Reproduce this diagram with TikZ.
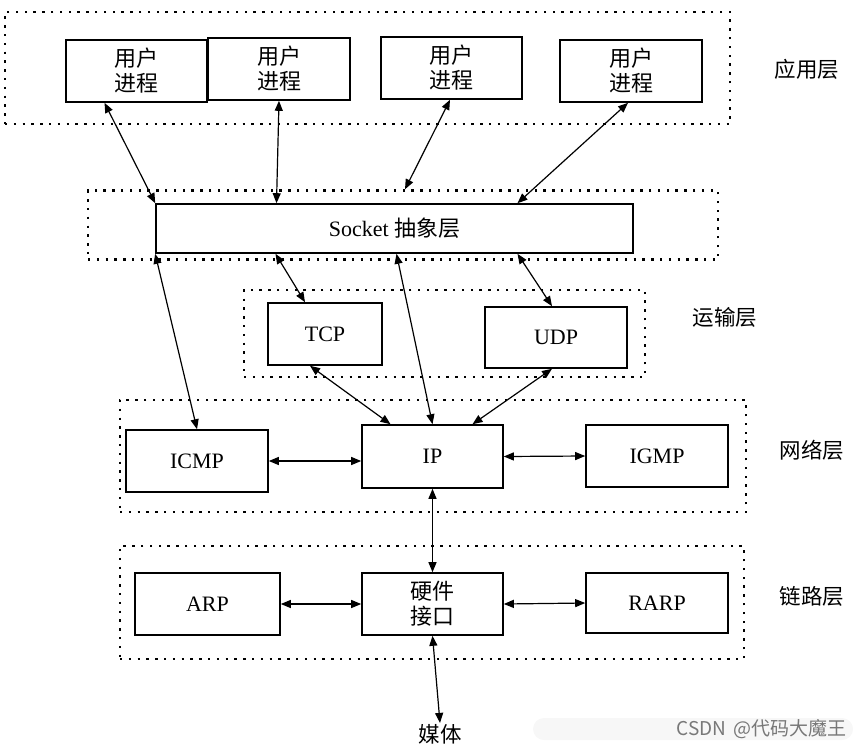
\documentclass[tikz,border=0pt]{standalone}
\usepackage{fontspec}
\setmainfont{Liberation Serif}
\newfontfamily\cjk{Noto Sans CJK SC}
\usepackage{tikz}
\usetikzlibrary{positioning,arrows.meta}
\definecolor{MarkGray}{RGB}{120,120,120}

\begin{document}
\begin{tikzpicture}[x=1pt, y=-1pt,
    pbox/.style={rectangle, draw=black, line width=1.6pt, fill=white,
                 minimum width=141pt, minimum height=62pt, inner sep=0pt,
                 align=center, font=\fontsize{22}{25}\selectfont},
    layer/.style={rectangle, draw=black, line width=2.4pt,
                  dash pattern=on 2.4pt off 6.4pt, inner sep=0pt},
    lname/.style={font=\cjk\fontsize{21.5}{25}\selectfont},
    arrow/.style={{Triangle[length=10pt,width=8pt]}-{Triangle[length=10pt,width=8pt]}, line width=1.2pt}
]
    \useasboundingbox (0,0) rectangle (856,748);

    % dotted layer frames
    \node[layer, minimum width=725pt, minimum height=112pt] (appL) at (367.5,68) {};
    \node[layer, minimum width=630pt, minimum height=69pt] (sockL) at (403,225) {};
    \node[layer, minimum width=401pt, minimum height=87pt] (transL) at (444.5,333.5) {};
    \node[layer, minimum width=626pt, minimum height=112pt] (netL) at (433,456) {};
    \node[layer, minimum width=624pt, minimum height=113pt] (linkL) at (432,602.5) {};

    % application layer
    \node[pbox] (u1) at (136.5,71) {\cjk 用户\\\cjk 进程};
    \node[pbox, minimum width=142pt] (u2) at (279,69) {\cjk 用户\\\cjk 进程};
    \node[pbox] (u3) at (451.5,68) {\cjk 用户\\\cjk 进程};
    \node[pbox, minimum width=142pt] (u4) at (631,71) {\cjk 用户\\\cjk 进程};

    \node[pbox, minimum width=477pt, minimum height=49pt] (sock) at (394.5,228.5) {Socket {\cjk 抽象层}};

    % transport layer
    \node[pbox, minimum width=114pt] (tcp) at (325,334) {TCP};
    \node[pbox, minimum width=142pt, minimum height=61pt] (udp) at (556,337.5) {UDP};

    % network layer
    \node[pbox, minimum width=142pt] (icmp) at (197,461) {ICMP};
    \node[pbox, minimum height=63pt] (ip) at (432.5,456.5) {IP};
    \node[pbox, minimum width=142pt] (igmp) at (657,456) {IGMP};

    % link layer
    \node[pbox, minimum width=145pt] (arp) at (207.5,604) {ARP};
    \node[pbox] (hw) at (432.5,604) {\cjk 硬件\\\cjk 接口};
    \node[pbox, minimum width=142pt, minimum height=60pt] (rarp) at (657,603) {RARP};

    \node[lname, inner sep=1pt] (media) at (440,734) {媒体};

    % layer names
    \node[lname] (appN) at (807,69) {应用层};
    \node[lname] (transN) at (725,317) {运输层};
    \node[lname] (netN) at (812,450) {网络层};
    \node[lname] (linkN) at (812,596) {链路层};

    \node[fill=gray!6, rounded corners=11pt, minimum width=320pt, minimum height=22pt,
          inner sep=0pt, text=MarkGray, font=\cjk\fontsize{19}{21}\selectfont,
          text width=306pt, align=right] (mark) at (693,729) {CSDN @代码大魔王};

    \draw[arrow] ([xshift=-32pt]u1.south) -- (sock.north west);
    \draw[arrow] (u2.south) -- ([xshift=-118pt]sock.north);
    \draw[arrow] ([xshift=-1.5pt]u3.south) -- ([xshift=2pt]sockL.north);
    \draw[arrow] ([xshift=-3pt]u4.south) -- ([xshift=123pt]sock.north);

    \draw[arrow] (sock.south west) -- (icmp.north);
    \draw[arrow] ([xshift=-119pt]sock.south) -- ([xshift=-20pt]tcp.north);
    \draw[arrow] ([xshift=2pt]sock.south) -- (ip.north);
    \draw[arrow] ([xshift=123pt]sock.south) -- ([xshift=-4pt]udp.north);

    \draw[arrow] ([xshift=-15pt]tcp.south) -- ([xshift=-42pt]ip.north);
    \draw[arrow] ([xshift=-4pt]udp.south) -- ([xshift=40pt]ip.north);

    \draw[arrow] (icmp.east) -- (ip.west |- icmp.east);
    \draw[arrow] (ip.east) -- (igmp.west);
    \draw[arrow] (ip.south) -- (hw.north);
    \draw[arrow] (arp.east) -- (hw.west);
    \draw[arrow] (hw.east) -- (rarp.west);
    \draw[arrow] (hw.south) -- (media.north);
\end{tikzpicture}
\end{document}
